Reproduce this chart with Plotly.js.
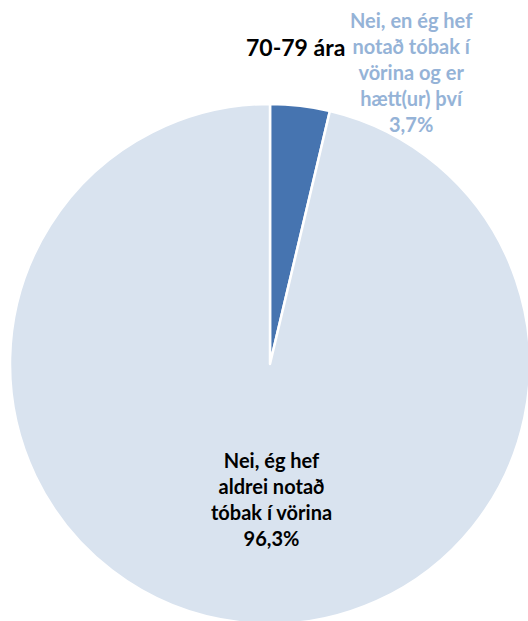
<!DOCTYPE html>
<html>
<head>
<meta charset="utf-8">
<script src="https://cdn.plot.ly/plotly-3.0.1.min.js"></script>
<style>
html, body { margin: 0; padding: 0; overflow: hidden; background: #ffffff; }
#chart { width: 540px; height: 640px; }
</style>
</head>
<body>
<div id="chart"></div>
<script>
// Data
const chartTitle = "70-79 ára";
const categories = [
  "Nei, en ég hef notað tóbak í vörina og er hætt(ur) því",
  "Nei, ég hef aldrei notað tóbak í vörina"
];
const labelLines = [
  ["Nei, en ég hef", "notað tóbak í", "vörina og er", "hætt(ur) því"],
  ["Nei, ég hef", "aldrei notað", "tóbak í vörina"]
];
const values = [3.7, 96.3];
const sliceColors = ["#4674B0", "#D9E3EF"];

function pct(v) { return v.toFixed(1).replace(".", ",") + "%"; }

const font = "Lato, 'Open Sans', sans-serif";

const trace = {
  type: "pie",
  labels: categories,
  values: values,
  sort: false,
  direction: "clockwise",
  rotation: 0,
  textinfo: "none",
  hoverinfo: "none",
  marker: { colors: sliceColors, line: { color: "#ffffff", width: 2.5 } },
  domain: { x: [10 / 540, 530 / 540], y: [16 / 640, 536 / 640] },
  showlegend: false
};

const annotations = [
  {
    text: "<b>" + chartTitle + "</b>",
    xref: "paper", yref: "paper", x: 295 / 540, y: 1 - 47 / 640,
    xanchor: "center", yanchor: "middle", showarrow: false,
    font: { family: font, size: 23, color: "#000000" }
  },
  {
    text: "<b>" + labelLines[0].concat([pct(values[0])]).join("<br>") + "</b>",
    xref: "paper", yref: "paper", x: 411 / 540, y: 1 - 72 / 640,
    xanchor: "center", yanchor: "middle", showarrow: false, align: "center",
    font: { family: font, size: 20, color: "#95B3D7" }
  },
  {
    text: "<b>" + labelLines[1].concat([pct(values[1])]).join("<br>") + "</b>",
    xref: "paper", yref: "paper", x: 271 / 540, y: 1 - 499 / 640,
    xanchor: "center", yanchor: "middle", showarrow: false, align: "center",
    font: { family: font, size: 20, color: "#000000" }
  }
];

const layout = {
  width: 540,
  height: 640,
  margin: { l: 0, r: 0, t: 0, b: 0 },
  paper_bgcolor: "#ffffff",
  plot_bgcolor: "#ffffff",
  annotations: annotations,
  showlegend: false
};

Plotly.newPlot("chart", [trace], layout, { staticPlot: true, displayModeBar: false });
</script>
</body>
</html>
